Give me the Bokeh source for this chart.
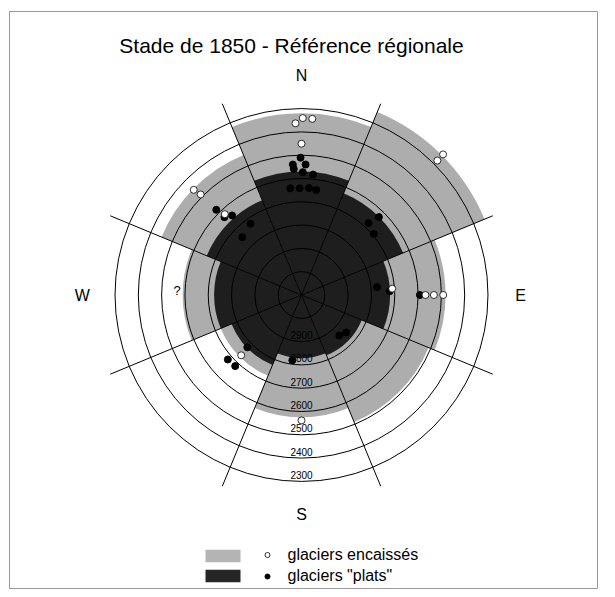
import numpy as np
from bokeh.plotting import figure
from bokeh.models import Range1d
from bokeh.core.properties import value
from bokeh.embed import file_html
from bokeh.resources import INLINE

# ---------------- data ----------------
title = "Stade de 1850 - Référence régionale"
directions = ["N", "NE", "E", "SE", "S", "SW", "W", "NW"]
dir_az = [0, 45, 90, 135, 180, 225, 270, 315]
# lower limit (m) of the 1850 stage per exposure
grey_limit = [2320, 2250, 2482, 2510, 2575, 2725, 2590, 2450]   # glaciers encaissés
dark_limit = [2570, 2628, 2720, 2820, 2830, 2775, 2725, 2660]   # glaciers "plats"
ring_alts = [2300, 2400, 2500, 2600, 2700, 2800, 2900, 3000]
ring_labels = ["2300", "2400", "2500", "2600", "2700", "2800", "2900"]
cardinal = ["N", "E", "S", "W"]
cardinal_az = [0, 90, 180, 270]

enc_az = [-2.0, 0.4, 3.5, 0.0, 45.3, 45.2, 90, 90, 90, 86, 180, 225, 314.3, 314.9, 316.5]
enc_alt = [2363, 2341, 2343, 2451, 2280, 2244, 2568, 2532, 2492, 2710, 2562, 2734, 2454, 2489, 2622]

plat_az = [-0.4, -3.8, 1.8, -3.5, 0.6, 5.5, -6, -1, 4, 8,
           44.8, 43, 49.8, 90, 84, 87.5, 130, 137, 188,
           228.8, 223, 226, 315, 315.3, 318.9, 324.4, 314.3]
plat_alt = [2511, 2539, 2540, 2558, 2573, 2581, 2640, 2642, 2640, 2645,
            2629, 2678, 2694, 2592, 2774, 2721, 2850, 2862, 2817,
            2680, 2683, 2777, 2583, 2630, 2647, 2724, 2745]

legend_labels = ["glaciers encaissés", 'glaciers "plats"']

# ---------------- geometry ----------------
CENTER_ALT = 3100
K = 0.2331            # px per metre
CXP, CYP = 301, 294.5  # picture position of the centre
W, H = 599, 589
GREY = "#adadad"
DARK = "#1e1e1e"
FONT = value("Liberation Sans")


def px2x(px):
    return (px - CXP) / K


def px2y(py):
    return (CYP - py) / K


def polar(az, alt):
    a = np.radians(np.asarray(az, dtype=float))
    r = CENTER_ALT - np.asarray(alt, dtype=float)
    return r * np.sin(a), r * np.cos(a)


p = figure(width=W, height=H, output_backend="svg", toolbar_location=None,
           x_range=Range1d(px2x(0), px2x(W)), y_range=Range1d(px2y(H), px2y(0)),
           x_axis_type=None, y_axis_type=None, min_border=0)
p.outline_line_color = None
p.background_fill_color = "white"
p.border_fill_color = "white"

# frame of the original figure
p.quad(left=[px2x(9)], right=[px2x(597)], top=[px2y(11)], bottom=[px2y(588)],
       fill_color=None, line_color="#9a9a9a", line_width=1)

az = np.array(dir_az, dtype=float)
start = np.radians(90 - az - 22.5)
end = np.radians(90 - az + 22.5)

p.wedge(x=0, y=0, radius=[CENTER_ALT - a for a in grey_limit], start_angle=start, end_angle=end,
        fill_color=GREY, line_color=None)
p.wedge(x=0, y=0, radius=[CENTER_ALT - a for a in dark_limit], start_angle=start, end_angle=end,
        fill_color=DARK, line_color=None)

# rings
p.circle(x=[0] * len(ring_alts), y=[0] * len(ring_alts), radius=[CENTER_ALT - a for a in ring_alts],
         fill_color=None, line_color="black", line_width=1)

# sector boundaries
b_az = np.radians(az + 22.5)
L = CENTER_ALT - 2212
p.segment(x0=0, y0=0, x1=L * np.sin(b_az), y1=L * np.cos(b_az), line_color="black", line_width=1)

# ring labels (along the S direction, just inside each ring)
lx, ly = polar([180] * len(ring_labels), [int(t) + 28 for t in ring_labels])
p.text(x=lx, y=ly, text=ring_labels, text_font=FONT, text_font_size="10px",
       text_align="center", text_baseline="middle", text_color="black")

# points
ex, ey = polar(enc_az, enc_alt)
fx, fy = polar(plat_az, plat_alt)
p.scatter(x=fx, y=fy, size=7, marker="circle", fill_color="black", line_color="black")
p.scatter(x=ex, y=ey, size=7, marker="circle", fill_color="white", line_color="black", line_width=0.8)

# question mark (W)
qx, qy = polar([272], [2566])
p.text(x=qx, y=qy, text=["?"], text_font=FONT, text_font_size="13px",
       text_align="center", text_baseline="middle")

# cardinal labels
cx, cy = polar(cardinal_az, [CENTER_ALT - 940] * 4)
p.text(x=cx, y=cy, text=cardinal, text_font=FONT, text_font_size="16px",
       text_align="center", text_baseline="middle")

# title
p.text(x=[px2x(291)], y=[px2y(45)], text=[title], text_font=FONT, text_font_size="21px",
       text_align="center", text_baseline="middle")

# legend
p.rect(x=[px2x(222.5)] * 2, y=[px2y(555.5), px2y(575.5)], width=35 / K, height=12.5 / K,
       fill_color=["#b4b4b4", "#262626"], line_color=None)
p.scatter(x=[px2x(267)], y=[px2y(554.5)], size=5, marker="circle", fill_color="white",
          line_color="black", line_width=0.8)
p.scatter(x=[px2x(267)], y=[px2y(576)], size=5, marker="circle", fill_color="black", line_color="black")
p.text(x=[px2x(287)] * 2, y=[px2y(553.5), px2y(575)], text=legend_labels, text_font=FONT,
       text_font_size="16px", text_align="left", text_baseline="middle")

open("out.html", "w").write(file_html(p, INLINE))
